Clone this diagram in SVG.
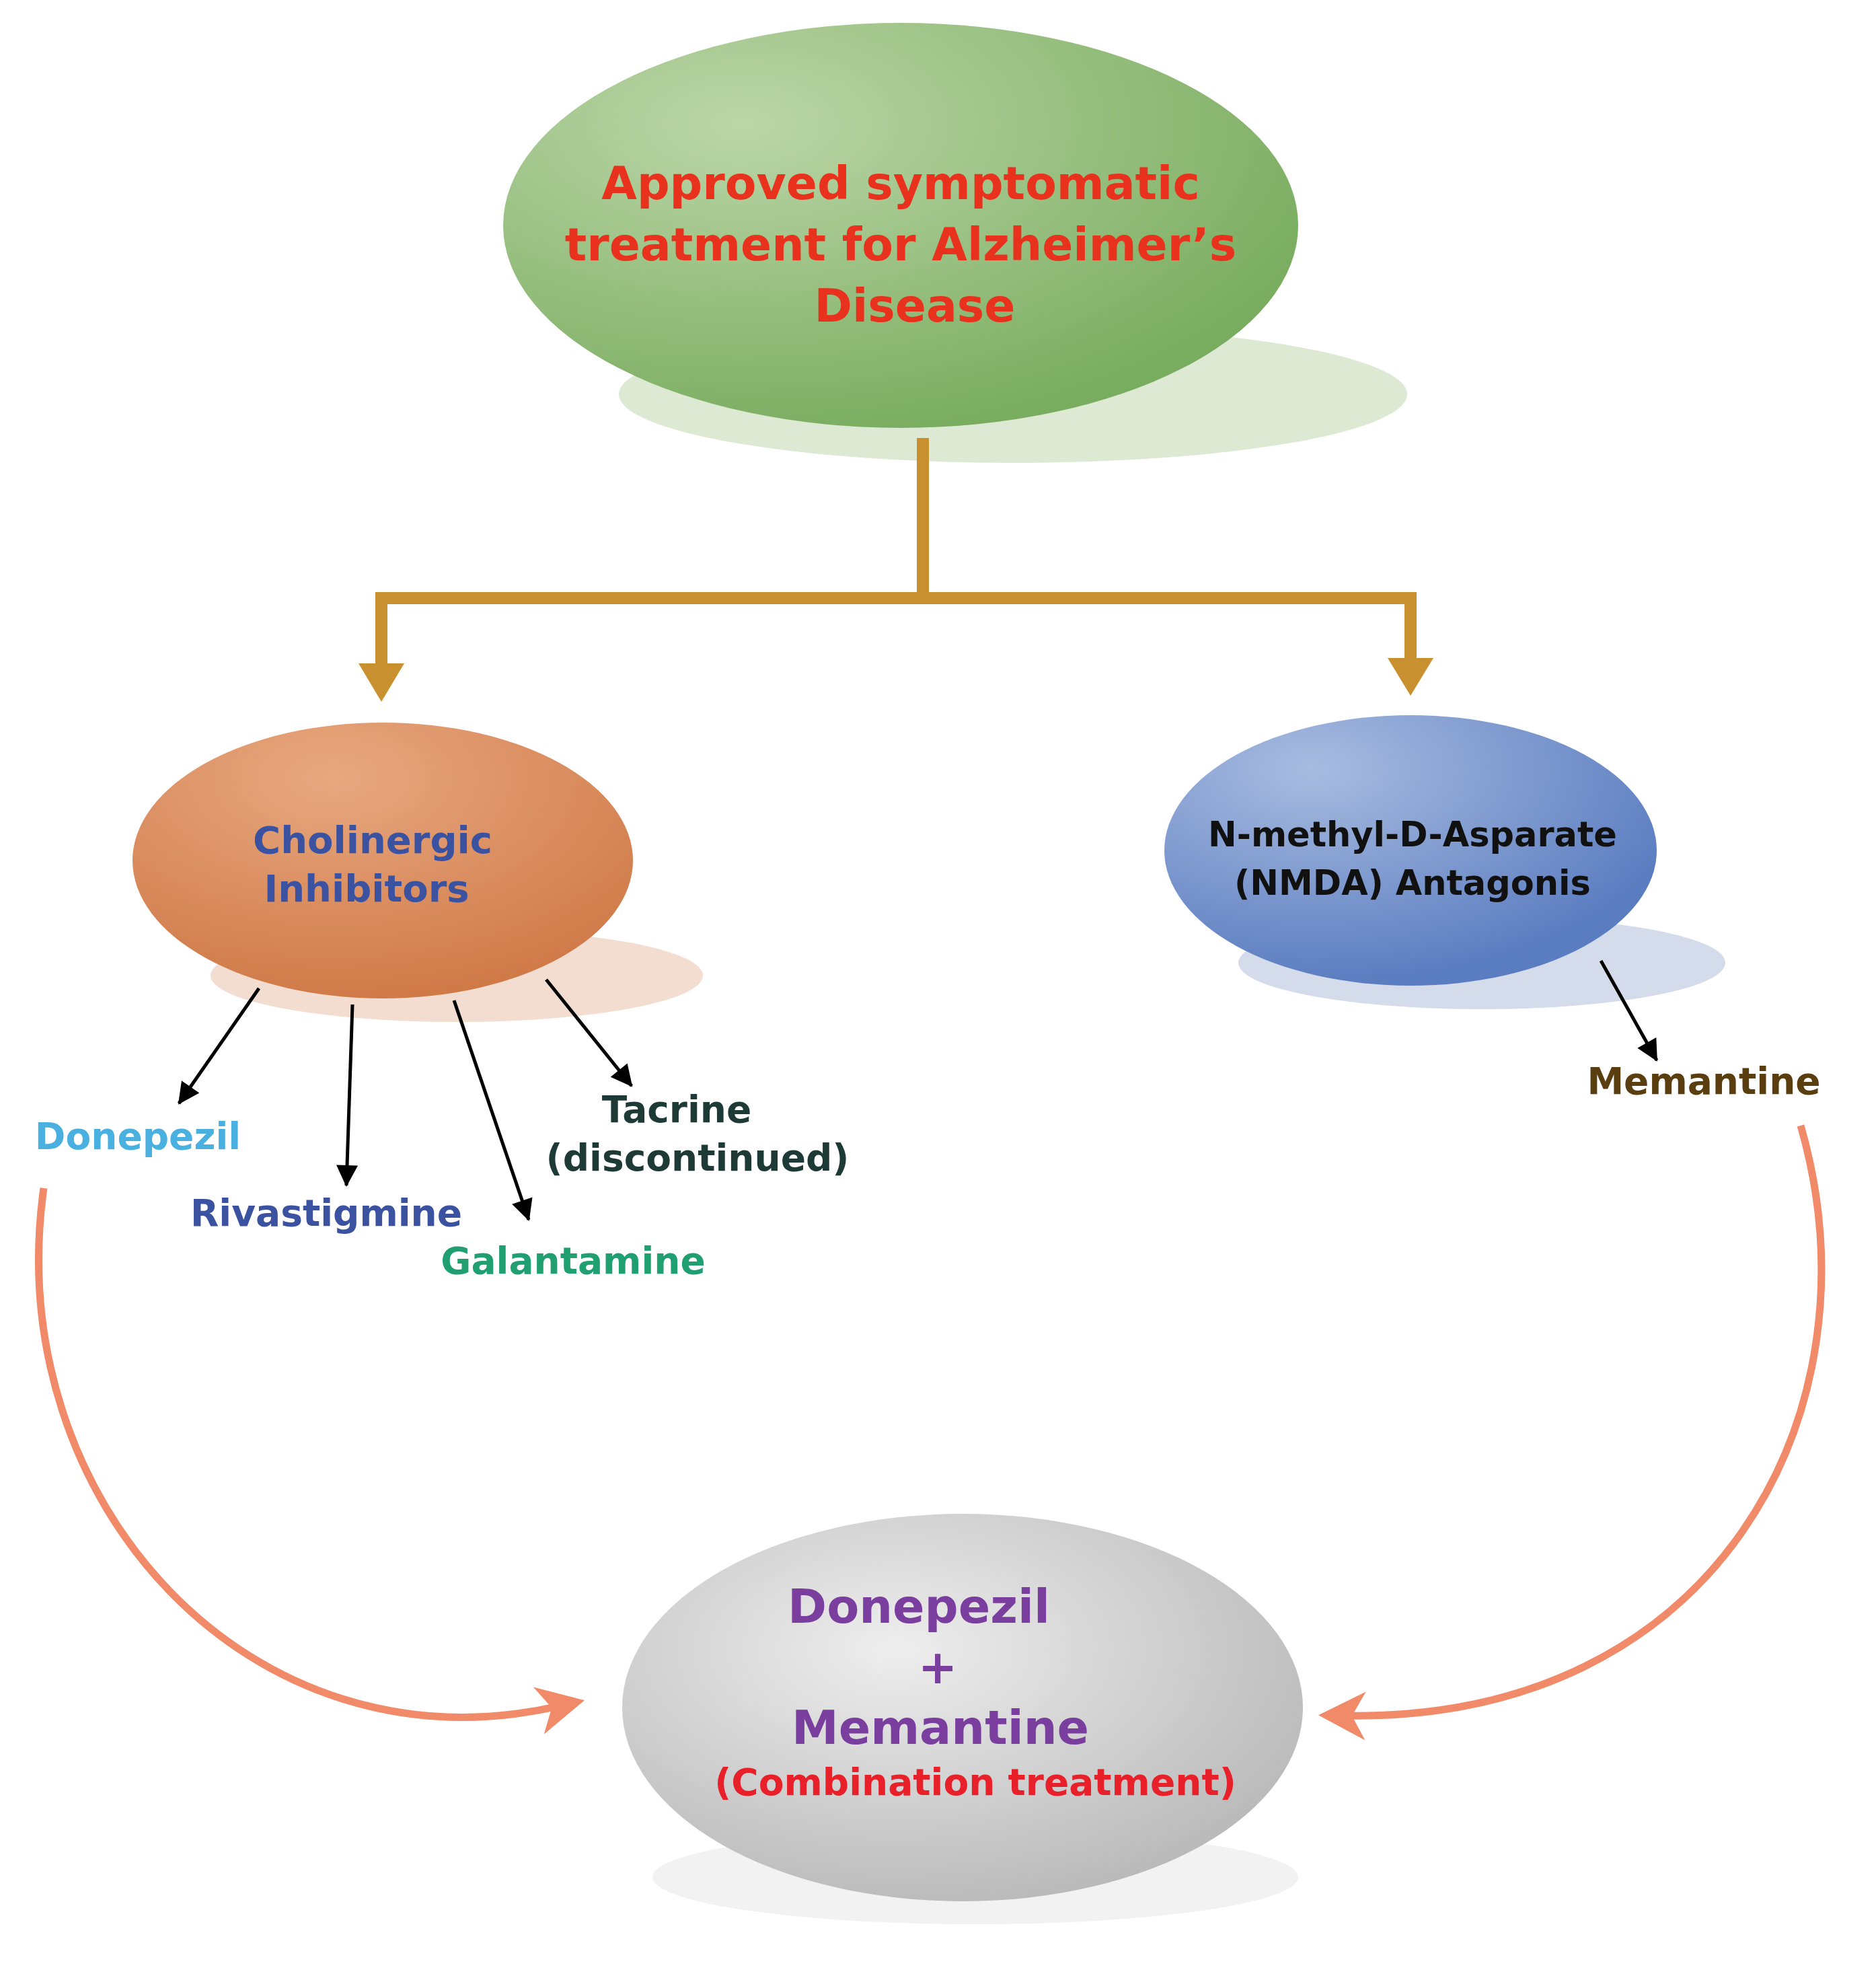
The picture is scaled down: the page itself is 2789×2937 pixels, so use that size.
<svg xmlns="http://www.w3.org/2000/svg" width="2789" height="2937" viewBox="0 0 2789 2937">
<style>
text{font-family:"DejaVu Sans","Liberation Sans",sans-serif;font-weight:bold;text-anchor:middle}
.blk{stroke:#000;stroke-width:5;fill:none}
.sal{stroke:#f08a68;stroke-width:11;fill:none}
.brn{stroke:#c8902e;stroke-width:18;fill:none}
</style>
<defs>
<radialGradient id="gG" cx="0.3" cy="0.25" r="0.8"><stop offset="0" stop-color="#bcd6a8"/><stop offset="1" stop-color="#78ac5e"/></radialGradient>
<radialGradient id="gO" cx="0.4" cy="0.2" r="0.8"><stop offset="0" stop-color="#e8a880"/><stop offset="1" stop-color="#d07a48"/></radialGradient>
<radialGradient id="gB" cx="0.3" cy="0.2" r="0.8"><stop offset="0" stop-color="#a8bce0"/><stop offset="1" stop-color="#5a7cc0"/></radialGradient>
<radialGradient id="gS" cx="0.4" cy="0.35" r="0.75"><stop offset="0" stop-color="#eeeeee"/><stop offset="1" stop-color="#b4b4b4"/></radialGradient>
<marker id="ab" markerWidth="1" markerHeight="1" refX="0" refY="0" orient="auto" markerUnits="userSpaceOnUse" style="overflow:visible"><path d="M-30 -16L2 0L-30 16z" fill="#000"/></marker>
<marker id="as" markerWidth="1" markerHeight="1" refX="0" refY="0" orient="auto" markerUnits="userSpaceOnUse" style="overflow:visible"><path d="M-30 -36L40 0L-30 36L-10 0z" fill="#f08a68"/></marker>
</defs>
<g id="top">
<ellipse cx="1506" cy="586" rx="586" ry="102" fill="#dde9d2"/>
<ellipse cx="1339" cy="335" rx="591" ry="301" fill="url(#gG)"/>
<text font-size="68" fill="#e8321e"><tspan x="1339" y="296">Approved symptomatic</tspan><tspan x="1339" y="387">treatment for Alzheimer’s</tspan><tspan x="1360" y="478">Disease</tspan></text>
</g>
<g id="cholinergic">
<ellipse cx="679" cy="1450" rx="366" ry="69" fill="#f3ddd0"/>
<ellipse cx="569" cy="1279" rx="372" ry="205" fill="url(#gO)"/>
<text font-size="56" fill="#3a52a0"><tspan x="554" y="1268">Cholinergic</tspan><tspan x="545" y="1340">Inhibitors</tspan></text>
</g>
<g id="nmda">
<ellipse cx="2203" cy="1431" rx="362" ry="69" fill="#d4dcec"/>
<ellipse cx="2097" cy="1264" rx="366" ry="201" fill="url(#gB)"/>
<text font-size="51" fill="#111"><tspan x="2100" y="1258">N-methyl-D-Asparate</tspan><tspan x="2100" y="1330">(NMDA) Antagonis</tspan></text>
</g>
<g id="combo">
<ellipse cx="1450" cy="2790" rx="480" ry="70" fill="#f2f2f2"/>
<ellipse cx="1431" cy="2538" rx="506" ry="288" fill="url(#gS)"/>
<text font-size="70" fill="#7a3e9e"><tspan x="1366" y="2412">Donepezil</tspan><tspan x="1394" y="2502">+</tspan><tspan x="1398" y="2592">Memantine</tspan></text>
<text x="1450" y="2668" font-size="55" fill="#e8202a">(Combination treatment)</text>
</g>
<g id="labels" font-size="55">
<text x="205" y="1708" fill="#4ab0e0">Donepezil</text>
<text x="485" y="1822" fill="#3a52a0">Rivastigmine</text>
<text x="852" y="1893" fill="#20a070">Galantamine</text>
<text x="1006" y="1668" fill="#1e3a36">Tacrine</text>
<text x="1037" y="1740" fill="#1e3a36">(discontinued)</text>
<text x="2533" y="1626" fill="#5a3e10">Memantine</text>
</g>
<g id="connectors">
<path class="brn" d="M1372 651V889M567 1000V889H2097V990"/>
<polygon points="533,986 601,986 567,1043" fill="#c8902e"/>
<polygon points="2063,978 2131,978 2097,1034" fill="#c8902e"/>
<path class="blk" marker-end="url(#ab)" d="M385 1469L266 1640"/>
<path class="blk" marker-end="url(#ab)" d="M524 1493L515 1762"/>
<path class="blk" marker-end="url(#ab)" d="M675 1487L786 1813"/>
<path class="blk" marker-end="url(#ab)" d="M812 1456L939 1614"/>
<path class="blk" marker-end="url(#ab)" d="M2380 1428L2463 1576"/>
<path class="sal" marker-end="url(#as)" d="M65 1766C0 2230 372 2640 830 2536"/>
<path class="sal" marker-end="url(#as)" d="M2677 1673C2800 2100 2550 2560 2000 2550"/>
</g>
</svg>
